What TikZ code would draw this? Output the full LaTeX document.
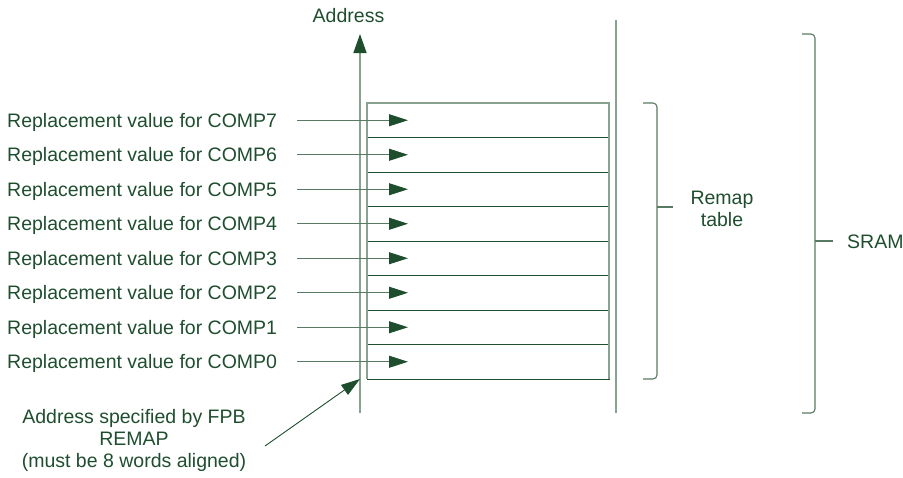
\documentclass[tikz,border=0pt]{standalone}
\usepackage{fontspec}
\setmainfont{Liberation Sans}
\usetikzlibrary{arrows.meta,calc}
\definecolor{dkgreen}{RGB}{31,78,47}
\definecolor{midgreen}{RGB}{88,122,98}
\definecolor{ltgreen}{RGB}{135,162,143}
\begin{document}
\begin{tikzpicture}[
    x={(1pt,0pt)}, y={(0pt,-1pt)},
    every node/.style={font=\fontsize{19.5}{22}\selectfont,text=dkgreen,inner sep=0pt},
    cell/.style={draw=dkgreen,line width=.9pt,minimum width=242pt,minimum height=34.5pt,outer sep=0pt},
    feed/.style={midgreen,line width=.9pt,-{Triangle[length=19pt,width=12pt,color=dkgreen]}},
    brace/.style={midgreen,line width=1.1pt,rounded corners=4pt}]
    \useasboundingbox (0,0) rectangle (903,477);
    % remap table
    \node[cell] (row7) at (488,120.25) {};
    \node[cell] (row6) at (488,154.75) {};
    \node[cell] (row5) at (488,189.25) {};
    \node[cell] (row4) at (488,223.75) {};
    \node[cell] (row3) at (488,258.25) {};
    \node[cell] (row2) at (488,292.75) {};
    \node[cell] (row1) at (488,327.25) {};
    \node[cell] (row0) at (488,361.75) {};
    \draw[ltgreen,line width=1.1pt]
        (row0.south west) -- (row7.north west) -- (row7.north east) -- (row0.south east);
    % address axis and SRAM edge
    \coordinate (axbot) at (360,413);
    \coordinate (axtop) at (360,34);
    \draw[ltgreen,line width=1.5pt,-{Triangle[length=19pt,width=13pt,color=dkgreen]}] (axbot) -- (axtop);
    \node[anchor=base] (addr) at (348.5,22) {Address};
    \draw[ltgreen,line width=1.1pt] (616,20) -- (616,413);
    % replacement values
    \node[anchor=base west] (lbl7) at (7,127.25) {Replacement value for COMP7};
    \node[anchor=base west] (lbl6) at (7,161.75) {Replacement value for COMP6};
    \node[anchor=base west] (lbl5) at (7,196.25) {Replacement value for COMP5};
    \node[anchor=base west] (lbl4) at (7,230.75) {Replacement value for COMP4};
    \node[anchor=base west] (lbl3) at (7,265.25) {Replacement value for COMP3};
    \node[anchor=base west] (lbl2) at (7,299.75) {Replacement value for COMP2};
    \node[anchor=base west] (lbl1) at (7,334.25) {Replacement value for COMP1};
    \node[anchor=base west] (lbl0) at (7,368.75) {Replacement value for COMP0};
    \draw[feed] ($(lbl7.east |- row7)+(20,0)$) -- ($(row7.west)+(41,0)$);
    \draw[feed] ($(lbl6.east |- row6)+(20,0)$) -- ($(row6.west)+(41,0)$);
    \draw[feed] ($(lbl5.east |- row5)+(20,0)$) -- ($(row5.west)+(41,0)$);
    \draw[feed] ($(lbl4.east |- row4)+(20,0)$) -- ($(row4.west)+(41,0)$);
    \draw[feed] ($(lbl3.east |- row3)+(20,0)$) -- ($(row3.west)+(41,0)$);
    \draw[feed] ($(lbl2.east |- row2)+(20,0)$) -- ($(row2.west)+(41,0)$);
    \draw[feed] ($(lbl1.east |- row1)+(20,0)$) -- ($(row1.west)+(41,0)$);
    \draw[feed] ($(lbl0.east |- row0)+(20,0)$) -- ($(row0.west)+(41,0)$);
    % braces
    \draw[brace] (643,103) -- (657,103) -- (657,379) -- (643,379);
    \draw[midgreen,line width=1.1pt] (657,207) -- (673,207);
    \node[anchor=north,align=center] (remap) at (722,191) {Remap\\table};
    \draw[brace] (802,34) -- (815,34) -- (815,413) -- (802,413);
    \draw[midgreen,line width=1.1pt] (815,241) -- (833,241);
    \node[anchor=base west] (sram) at (847,248) {SRAM};
    % remap base address
    \node[anchor=north,align=center] (note) at (134,409)
        {Address specified by FPB\\REMAP\\(must be 8 words aligned)};
    \coordinate (ptr) at (265,446);
    \coordinate (tblbase) at (360,379);
    \draw[feed,dkgreen] (ptr) -- (tblbase);
\end{tikzpicture}
\end{document}
